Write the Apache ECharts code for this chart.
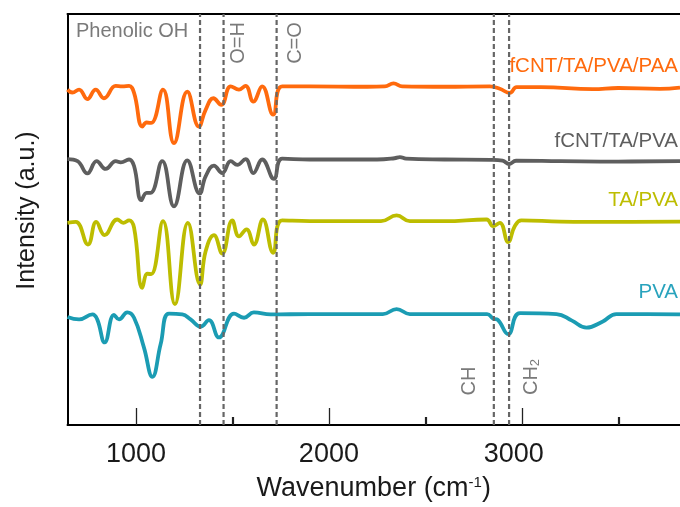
<!DOCTYPE html>
<html>
<head>
<meta charset="utf-8">
<script src="https://cdn.jsdelivr.net/npm/echarts@6/dist/echarts.min.js"></script>
<style>
  html, body { margin: 0; padding: 0; background: #fff; }
  #chart { width: 680px; height: 507px; }
</style>
</head>
<body>
<div id="chart"></div>
<script>
// wavenumbers (cm-1) and offset intensities (a.u.)
const paaWn = [645, 670, 705, 748, 791, 834, 895, 929, 964, 990, 1033, 1055, 1079, 1140, 1197, 1266, 1326, 1361, 1401, 1442,
  1491, 1534, 1568, 1608, 1654, 1711, 1758, 1900, 2200, 2290, 2335, 2380, 2600, 2834, 2886, 2938, 2973, 3100, 3368, 3500, 3715, 3820]
const paaVal = [81.6, 80.9, 81.6, 79.3, 81.6, 79.5, 82.5, 82.4, 82.5, 80.8, 72.6, 73.6, 73.5, 81.6, 68.6, 81.1, 72.6, 76.7, 79.5, 77.9,
  82.4, 81.6, 82.5, 78.7, 82.4, 75.5, 82.4, 82.4, 82.3, 82.4, 83.1, 82.4, 82.3, 82.4, 81.8, 80.8, 82.2, 82.2, 81.7, 82.0, 81.8, 82.1]

const cntWn = [645, 697, 748, 796, 843, 895, 921, 964, 990, 1028, 1055, 1076, 1136, 1197, 1266, 1330, 1361, 1404, 1447, 1491,
  1525, 1568, 1608, 1654, 1715, 1758, 1900, 2250, 2340, 2368, 2400, 2600, 2840, 2900, 2935, 2970, 3200, 3500, 3820]
const cntVal = [64.7, 64.2, 61.2, 64.2, 62.3, 64.2, 63.9, 64.6, 63.0, 54.7, 56.5, 56.5, 64.2, 53.2, 64.4, 56.3, 60.5, 63.1, 61.3, 64.2,
  63.3, 64.7, 61.3, 64.6, 59.9, 64.8, 64.6, 64.6, 64.9, 65.2, 64.8, 64.6, 64.5, 64.3, 63.5, 64.3, 64.2, 64.1, 64.2]

const taWn = [645, 688, 751, 794, 837, 903, 934, 964, 990, 1033, 1059, 1079, 1140, 1202, 1269, 1332, 1361, 1404, 1447, 1499,
  1534, 1573, 1611, 1658, 1711, 1758, 1900, 2270, 2351, 2420, 2600, 2817, 2851, 2886, 2929, 2964, 2998, 3200, 3500, 3820]
const taVal = [49.2, 49.4, 43.9, 49.4, 46.2, 50.0, 49.2, 49.8, 48.0, 33.4, 36.8, 36.7, 49.6, 29.4, 49.2, 34.2, 42.3, 46.2, 41.7, 49.8,
  45.9, 47.6, 43.9, 50.0, 41.9, 49.8, 49.6, 49.6, 51.0, 49.6, 49.6, 50.0, 48.4, 49.2, 44.5, 48.4, 49.8, 49.5, 49.4, 49.5]

const pvaWn = [645, 705, 774, 799, 838, 886, 912, 955, 990, 1041, 1085, 1128, 1171, 1240, 1283, 1335, 1378, 1430, 1508, 1560,
  1611, 1698, 1900, 2280, 2351, 2420, 2600, 2820, 2851, 2875, 2929, 2990, 3180, 3260, 3335, 3420, 3490, 3650, 3820]
const pvaVal = [26.3, 25.7, 26.9, 25.7, 20.1, 26.8, 25.7, 27.4, 26.1, 18.9, 11.7, 19.7, 27.1, 26.9, 25.7, 23.9, 25.5, 21.3, 27.1, 26.1,
  27.4, 26.9, 27.0, 27.0, 28.2, 27.0, 27.0, 27.0, 25.9, 25.6, 22.1, 27.2, 27.0, 25.4, 23.7, 25.2, 27.0, 27.0, 26.9]

const bandLines = [1332, 1454, 1729, 2855, 2934]
const majorTicks = [1000, 2000, 3000]
const minorTicks = [1500, 2500, 3500]

const font = "'Liberation Sans', Arial, sans-serif"

const zip = (xs, ys) => xs.map((x, i) => [x, ys[i]])

const makeLine = (name, color, wn, val) => ({
  name,
  type: 'line',
  data: zip(wn, val),
  smooth: 0.45,
  symbol: 'none',
  lineStyle: { color, width: 3.8 },
  silent: true
})

const chart = echarts.init(document.getElementById('chart'))

const series = [
  makeLine('PVA', '#1b9cb3', pvaWn, pvaVal),
  makeLine('TA/PVA', '#bdbd00', taWn, taVal),
  makeLine('fCNT/TA/PVA', '#5e5e5e', cntWn, cntVal),
  makeLine('fCNT/TA/PVA/PAA', '#ff6a0d', paaWn, paaVal)
]

// dashed band markers, full height of the plot
bandLines.forEach(v => {
  series.push({
    type: 'line',
    data: [[v, 0], [v, 100]],
    symbol: 'none',
    silent: true,
    z: 5,
    lineStyle: { color: '#666', width: 2.2, type: [5, 3] }
  })
})

const grayText = (text, x, y, rotate) => ({
  type: 'text',
  x,
  y,
  rotation: rotate ? Math.PI / 2 : 0,
  style: {
    text,
    font: '20px ' + font,
    fill: '#7a7a7a',
    align: rotate ? 'center' : 'left',
    verticalAlign: 'middle',
    rich: {
      sub: { fontSize: 13, fontFamily: font, fill: '#7a7a7a', verticalAlign: 'bottom', padding: [8, 0, 0, 0] }
    }
  }
})

const seriesLabel = (text, color, y) => ({
  type: 'text',
  x: 678,
  y,
  style: { text, font: '20.5px ' + font, fill: color, align: 'right', verticalAlign: 'middle' }
})

const option = {
  animation: false,
  grid: { left: 67.5, right: 0, top: 14, bottom: 81 },
  xAxis: [
    {
      type: 'value',
      min: 645,
      max: 3820,
      name: 'Wavenumber (cm{sup|-1})',
      nameLocation: 'middle',
      nameGap: 50,
      nameTextStyle: {
        fontSize: 27,
        fontFamily: font,
        color: '#1a1a1a',
        rich: {
          sup: { fontSize: 15, fontFamily: font, color: '#1a1a1a', verticalAlign: 'top' }
        }
      },
      axisLine: { lineStyle: { color: '#000', width: 2 } },
      axisTick: { inside: true, length: 17, customValues: majorTicks, lineStyle: { color: '#222', width: 1.3 } },
      axisLabel: {
        customValues: majorTicks,
        margin: 16,
        fontSize: 27,
        fontFamily: font,
        color: '#1a1a1a',
        // the 3000 label sits a little left of its tick in the original
        formatter: v => (v === 3000 ? '{s|' + v + '}' : String(v)),
        rich: { s: { fontSize: 27, fontFamily: font, color: '#1a1a1a', padding: [0, 16, 0, 0] } }
      },
      splitLine: { show: false }
    },
    {
      type: 'value',
      min: 645,
      max: 3820,
      position: 'bottom',
      axisLine: { show: false },
      axisTick: { inside: true, length: 8, customValues: minorTicks, lineStyle: { color: '#222', width: 2.2 } },
      axisLabel: { show: false },
      splitLine: { show: false }
    },
    {
      type: 'value',
      min: 645,
      max: 3820,
      position: 'top',
      axisLine: { show: true, lineStyle: { color: '#000', width: 2 } },
      axisTick: { show: false },
      axisLabel: { show: false },
      splitLine: { show: false }
    }
  ],
  yAxis: {
    type: 'value',
    min: 0,
    max: 100,
    name: 'Intensity (a.u.)',
    nameLocation: 'middle',
    nameGap: 28,
    nameTextStyle: { fontSize: 25, fontFamily: font, color: '#1a1a1a', padding: [0, 0, 0, 18] },
    axisLine: { show: true, lineStyle: { color: '#000', width: 2 } },
    axisTick: { show: false },
    axisLabel: { show: false },
    splitLine: { show: false }
  },
  graphic: [
    grayText('Phenolic OH', 76, 31, false),
    grayText('O=H', 238, 43, true),
    grayText('C=O', 295, 43, true),
    grayText('CH', 469, 381, true),
    grayText('CH{sub|2}', 531, 377, true),
    seriesLabel('fCNT/TA/PVA/PAA', '#ff6a0d', 66),
    seriesLabel('fCNT/TA/PVA', '#5e5e5e', 141),
    seriesLabel('TA/PVA', '#bdbd00', 200),
    seriesLabel('PVA', '#29a3bd', 292)
  ],
  series
}

chart.setOption(option)
</script>
</body>
</html>
